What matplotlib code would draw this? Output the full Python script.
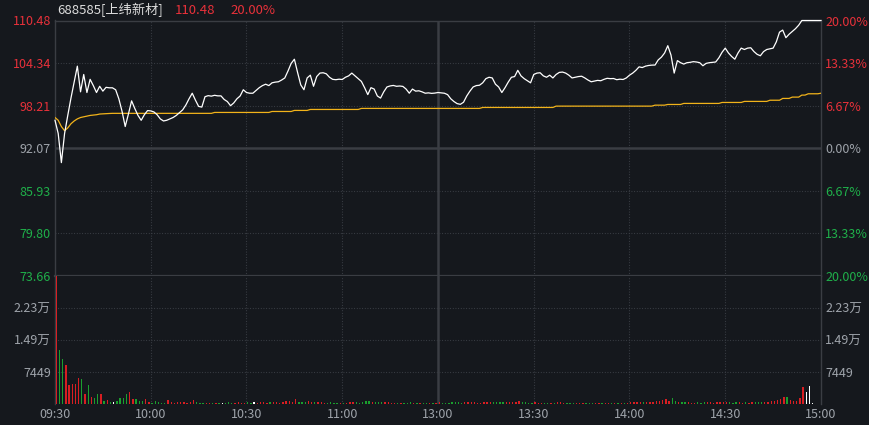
import numpy as np
import matplotlib.pyplot as plt

plt.rcParams['font.family'] = ['Noto Sans CJK SC', 'DejaVu Sans']

# --- data (one value per minute, 09:30 .. 15:00) ---
code = "688585"
name = "上纬新材"
pre_close = 92.07

price = [
    96.10, 94.20, 90.00, 94.20, 96.80, 99.30, 101.60, 103.90, 100.20, 102.70,
    100.10, 102.00, 101.10, 100.10, 101.00, 100.30, 100.85, 100.78, 100.78, 100.50,
    99.20, 97.40, 95.20, 97.00, 98.90, 97.80, 96.80, 96.10, 96.90, 97.50,
    97.45, 97.30, 96.90, 96.30, 96.00, 96.10, 96.30, 96.50, 96.80, 97.20,
    97.60, 98.30, 99.20, 100.00, 99.00, 98.10, 98.00, 99.50, 99.65, 99.58,
    99.70, 99.62, 99.62, 99.10, 98.80, 98.20, 98.60, 99.20, 99.60, 100.50,
    100.10, 100.00, 100.00, 100.40, 100.80, 101.10, 101.30, 101.10, 101.50, 101.60,
    101.65, 101.90, 102.20, 103.20, 104.30, 104.90, 103.00, 101.20, 100.50, 102.20,
    102.60, 101.00, 102.40, 102.90, 102.95, 102.80, 102.30, 102.00, 101.95, 102.02,
    101.98, 102.30, 102.50, 102.90, 102.50, 102.10, 101.70, 100.80, 99.80, 100.80,
    100.60, 99.60, 99.30, 100.20, 100.90, 101.05, 101.12, 101.00, 101.04, 100.98,
    100.60, 100.00, 100.60, 100.30, 100.35, 100.20, 100.00, 100.05, 99.98, 100.02,
    100.10, 100.05, 100.00, 99.80, 99.20, 98.80, 98.50, 98.40, 98.70, 99.60,
    100.30, 100.90, 101.10, 101.15, 101.50, 102.10, 102.30, 102.20, 101.30, 100.90,
    100.10, 100.80, 101.60, 102.30, 102.40, 103.30, 102.50, 102.10, 101.80, 101.50,
    102.70, 102.90, 102.95, 102.50, 102.30, 102.60, 102.20, 102.70, 103.00, 103.05,
    102.90, 102.60, 102.20, 102.30, 102.40, 102.45, 102.20, 101.90, 101.65, 101.75,
    101.85, 101.80, 102.00, 102.15, 102.10, 102.12, 101.95, 102.02, 101.98, 102.20,
    102.60, 102.90, 103.30, 103.80, 103.70, 103.90, 104.00, 104.05, 104.06, 104.80,
    105.20, 105.80, 106.85, 105.50, 102.90, 104.70, 104.40, 104.20, 104.40, 104.45,
    104.55, 104.50, 104.40, 103.96, 104.30, 104.40, 104.45, 104.50, 105.10, 105.90,
    106.50, 105.80, 105.30, 104.90, 105.80, 106.50, 106.30, 106.50, 106.55, 106.00,
    105.60, 105.40, 106.00, 106.30, 106.40, 106.50, 107.40, 108.80, 109.10, 108.00,
    108.50, 108.90, 109.30, 109.80, 110.48, 110.48, 110.48, 110.48, 110.48, 110.48,
    110.48,
]

avg_price = [
    96.50, 96.10, 95.20, 94.60, 95.00, 95.60, 96.00, 96.30, 96.50, 96.60,
    96.70, 96.80, 96.85, 96.90, 97.00, 97.03, 97.06, 97.08, 97.10, 97.10,
    97.10, 97.10, 97.10, 97.10, 97.10, 97.10, 97.10, 97.10, 97.10, 97.10,
    97.10, 97.10, 97.10, 97.10, 97.10, 97.10, 97.10, 97.10, 97.10, 97.10,
    97.10, 97.10, 97.10, 97.10, 97.10, 97.10, 97.10, 97.10, 97.10, 97.10,
    97.23, 97.23, 97.23, 97.23, 97.23, 97.23, 97.23, 97.23, 97.23, 97.23,
    97.23, 97.23, 97.23, 97.23, 97.23, 97.23, 97.23, 97.23, 97.37, 97.37,
    97.37, 97.37, 97.37, 97.37, 97.37, 97.52, 97.52, 97.52, 97.52, 97.52,
    97.66, 97.66, 97.66, 97.66, 97.66, 97.66, 97.66, 97.66, 97.66, 97.66,
    97.66, 97.66, 97.66, 97.66, 97.66, 97.66, 97.81, 97.81, 97.81, 97.81,
    97.81, 97.81, 97.81, 97.81, 97.81, 97.81, 97.81, 97.81, 97.81, 97.81,
    97.81, 97.81, 97.81, 97.81, 97.81, 97.81, 97.81, 97.81, 97.81, 97.81,
    97.81, 97.81, 97.81, 97.81, 97.81, 97.81, 97.81, 97.81, 97.81, 97.81,
    97.81, 97.81, 97.81, 97.81, 97.95, 97.95, 97.95, 97.95, 97.95, 97.95,
    97.95, 97.95, 97.95, 97.95, 97.95, 97.95, 97.95, 97.95, 97.95, 97.95,
    97.95, 97.95, 97.95, 97.95, 97.95, 97.95, 97.95, 98.14, 98.14, 98.14,
    98.14, 98.14, 98.14, 98.14, 98.14, 98.14, 98.14, 98.14, 98.14, 98.14,
    98.14, 98.14, 98.14, 98.14, 98.14, 98.14, 98.14, 98.14, 98.14, 98.14,
    98.14, 98.14, 98.14, 98.14, 98.14, 98.14, 98.14, 98.14, 98.28, 98.28,
    98.28, 98.28, 98.38, 98.38, 98.38, 98.38, 98.38, 98.53, 98.53, 98.53,
    98.53, 98.53, 98.53, 98.53, 98.53, 98.53, 98.53, 98.53, 98.53, 98.67,
    98.67, 98.67, 98.67, 98.67, 98.67, 98.67, 98.82, 98.82, 98.82, 98.82,
    98.82, 98.82, 98.82, 98.82, 98.99, 98.99, 98.99, 98.99, 99.25, 99.25,
    99.25, 99.44, 99.44, 99.44, 99.73, 99.73, 99.92, 99.92, 99.92, 99.92,
    100.00,
]

volume = [
    29796, 12570, 10480, 9080, 4420, 4660, 4660, 6130, 5820, 2330,
    4420, 1630, 1400, 2330, 2330, 700, 930, 390, 540, 700,
    1320, 1470, 2330, 2790, 1160, 1160, 780, 700, 1160, 540,
    230, 780, 390, 300, 300, 930, 460, 300, 460, 460,
    460, 300, 540, 930, 460, 300, 230, 230, 300, 300,
    230, 230, 230, 300, 390, 300, 300, 390, 300, 300,
    390, 300, 390, 300, 390, 390, 300, 390, 460, 390,
    300, 390, 620, 700, 460, 1160, 540, 460, 390, 620,
    460, 390, 540, 460, 300, 300, 390, 300, 230, 300,
    230, 300, 390, 460, 390, 300, 390, 620, 700, 460,
    390, 540, 460, 390, 460, 300, 300, 230, 300, 230,
    300, 390, 300, 230, 300, 230, 300, 230, 230, 300,
    460, 300, 230, 300, 390, 460, 390, 300, 460, 540,
    390, 460, 300, 300, 390, 460, 540, 390, 460, 390,
    460, 390, 460, 540, 460, 620, 460, 390, 300, 300,
    390, 300, 230, 300, 230, 300, 300, 390, 460, 300,
    230, 300, 230, 230, 300, 230, 230, 300, 230, 300,
    230, 230, 300, 230, 300, 230, 230, 300, 230, 300,
    390, 460, 540, 460, 390, 460, 390, 460, 700, 620,
    930, 1090, 780, 1320, 700, 460, 390, 460, 390, 300,
    300, 390, 300, 390, 460, 390, 300, 390, 460, 540,
    460, 390, 300, 390, 460, 300, 390, 300, 460, 390,
    460, 540, 460, 540, 620, 780, 930, 1240, 1710, 1710,
    930, 780, 780, 1470, 4040, 2870, 4190, 310, 0, 0,
    1710,
]

price_levels = [110.48, 104.34, 98.21, 92.07, 85.93, 79.80, 73.66]
pct_labels = ['20.00%', '13.33%', '6.67%', '0.00%', '6.67%', '13.33%', '20.00%']
vol_max = 29796
vol_ticks = [7449, 14898, 22347]
vol_labels = ['7449', '1.49万', '2.23万']
time_ticks = [0, 30, 60, 90, 120, 150, 180, 210, 240]
time_labels = ['09:30', '10:00', '10:30', '11:00', '13:00', '13:30', '14:00', '14:30', '15:00']

# --- colours ---
bg = '#15181d'
red = '#e8313a'
green = '#1fb04a'
grey_txt = '#9ea3aa'
frame = '#3a3d43'
dotc = '#3d4148'
bar_red = '#d81e22'
bar_green = '#1a9f2e'

fig = plt.figure(figsize=(8.7, 4.25), dpi=100, facecolor=bg)
W, H = 870, 425
ax = fig.add_axes([55 / W, 1 - 276 / H, 766 / W, 255.5 / H], facecolor=bg)
axv = fig.add_axes([55 / W, 1 - 404 / H, 766 / W, 128 / H], facecolor=bg, sharex=ax)

minutes = np.arange(len(price))

# grid
dots = (0, (0.8, 1.6))
for lv in price_levels[1:-1]:
    if lv == pre_close:
        ax.axhline(lv, color=frame, lw=1.8, zorder=1)
    else:
        ax.axhline(lv, color=dotc, lw=0.8, ls=dots, zorder=1)
for vt in vol_ticks:
    axv.axhline(vt, color=dotc, lw=0.8, ls=dots, zorder=1)
for t in time_ticks[1:-1]:
    for a in (ax, axv):
        if t == 120:
            a.axvline(t, color=frame, lw=1.8, zorder=1)
        else:
            a.axvline(t, color=dotc, lw=0.8, ls=dots, zorder=1)

# price + average
ax.plot(minutes, avg_price, color='#f2b31a', lw=0.9, zorder=3)
ax.plot(minutes, price, color='white', lw=0.9, zorder=4, clip_on=False)
ax.set_xlim(0, 240)
ax.set_ylim(price_levels[-1], price_levels[0])

# volume bars coloured by minute change (drawn just right of each minute)
prev = np.concatenate([[pre_close], price[:-1]])
diff = np.array(price) - prev
cols = [bar_red if d > 0 else (bar_green if d < 0 else 'white') for d in diff]
axv.bar(minutes + 0.4, volume, width=0.42, color=cols, linewidth=0, zorder=3)
axv.set_ylim(0, vol_max)

# axes frames
for a in (ax, axv):
    for s in a.spines.values():
        s.set_color(frame)
        s.set_linewidth(1.0)
        s.set_zorder(2)
ax.spines['bottom'].set_linewidth(1.6)
axv.spines['top'].set_visible(False)
axv.spines['bottom'].set_visible(False)

def lvl_color(v):
    if v > pre_close:
        return red
    if v < pre_close:
        return green
    return grey_txt

# left price labels
ax.set_yticks(price_levels)
ax.set_yticklabels([f"{v:.2f}" for v in price_levels])
ax.tick_params(axis='y', length=0, pad=3, labelsize=9)
for lab, v in zip(ax.get_yticklabels(), price_levels):
    lab.set_color(lvl_color(v))
ax.tick_params(axis='x', length=0, labelbottom=False)

# right percent labels
axr = ax.twinx()
axr.set_ylim(ax.get_ylim())
axr.set_yticks(price_levels)
axr.set_yticklabels(pct_labels)
axr.tick_params(axis='y', length=0, pad=3, labelsize=9)
for lab, v in zip(axr.get_yticklabels(), price_levels):
    lab.set_color(lvl_color(v))
for s in axr.spines.values():
    s.set_visible(False)

# volume labels both sides
axv.set_yticks(vol_ticks)
axv.set_yticklabels(vol_labels)
axv.tick_params(axis='y', length=0, pad=3, labelsize=9, colors=grey_txt)
axvr = axv.twinx()
axvr.set_ylim(axv.get_ylim())
axvr.set_yticks(vol_ticks)
axvr.set_yticklabels(vol_labels)
axvr.tick_params(axis='y', length=0, pad=3, labelsize=9, colors=grey_txt)
for s in axvr.spines.values():
    s.set_visible(False)

axv.set_xticks(time_ticks)
axv.set_xticklabels(time_labels)
axv.tick_params(axis='x', length=0, pad=3, labelsize=9, colors=grey_txt)

# header
last = price[-1]
chg = (last / pre_close - 1) * 100
fig.text(57 / W, 1 - 10 / H, f"{code}[{name}]", color='#dcdcdc', fontsize=9.5, va='center')
fig.text(175 / W, 1 - 10 / H, f"{last:.2f}", color=red, fontsize=9.5, va='center')
fig.text(230 / W, 1 - 10 / H, f"{chg:.2f}%", color=red, fontsize=9.5, va='center')

fig.savefig('out.png', dpi=100, facecolor=bg)
